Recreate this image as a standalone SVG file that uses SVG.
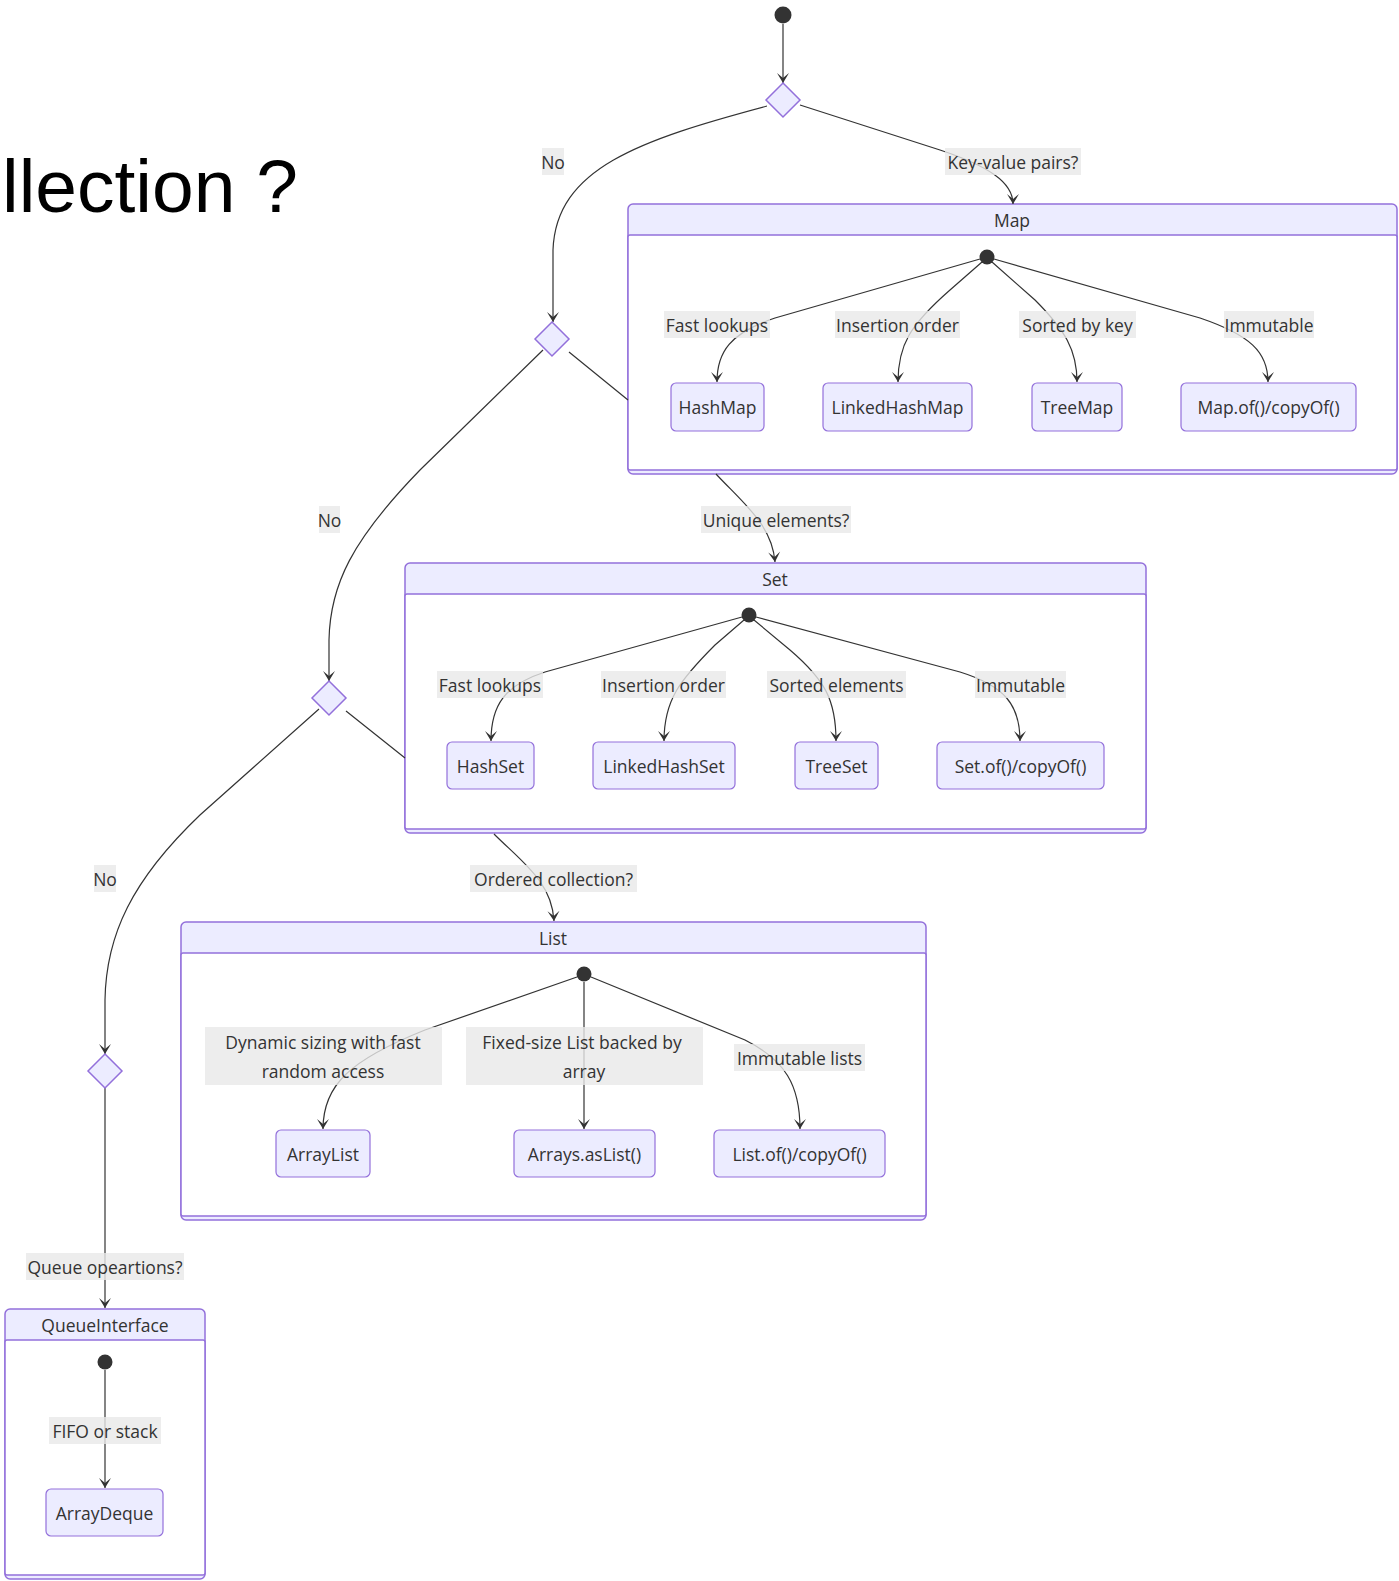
<svg xmlns="http://www.w3.org/2000/svg" width="1399" height="1581" viewBox="0 0 1399 1581">
<style>
.edge{fill:none;stroke:#333;stroke-width:1.2}
.lbg{fill:#e8e8e8;fill-opacity:0.8}
.t{font-family:"Open Sans","Noto Sans","DejaVu Sans",sans-serif;font-size:17.5px;fill:#333;text-anchor:middle;dominant-baseline:central}
.node rect{fill:#ECECFF;stroke:#9370DB;stroke-width:1.2}
.diam{fill:#ECECFF;stroke:#9370DB;stroke-width:1.5}
.outer{fill:#ECECFF;stroke:#9370DB;stroke-width:1.5}
.inner{fill:#ffffff;stroke:#9370DB;stroke-width:1.5}
.start{fill:#333}
</style>
<defs>
<marker id="arr" viewBox="0 0 20 14" markerWidth="20" markerHeight="14" refX="19" refY="7" orient="auto" markerUnits="userSpaceOnUse">
<path d="M19,7 L9,13 L14,7 L9,1 Z" fill="#333"/>
</marker>
</defs>
<rect width="1399" height="1581" fill="#ffffff"/>
<text x="2" y="212" font-family="'Liberation Sans',Arial,sans-serif" font-size="75" fill="#000">llection ?</text>

<g id="cluster-Map">
<rect class="outer" x="628" y="204" width="769" height="270" rx="5"/>
<rect class="inner" x="628" y="235" width="769" height="235" rx="2"/>
<text class="t" x="1012" y="220">Map</text>
</g>
<g id="cluster-Set">
<rect class="outer" x="405" y="563" width="741" height="270" rx="5"/>
<rect class="inner" x="405" y="594" width="741" height="235" rx="2"/>
<text class="t" x="775" y="579">Set</text>
</g>
<g id="cluster-List">
<rect class="outer" x="181" y="922" width="745" height="298" rx="5"/>
<rect class="inner" x="181" y="953" width="745" height="263" rx="2"/>
<text class="t" x="553" y="938">List</text>
</g>
<g id="cluster-QueueInterface">
<rect class="outer" x="5" y="1309" width="200" height="270" rx="5"/>
<rect class="inner" x="5" y="1340" width="200" height="235" rx="2"/>
<text class="t" x="105" y="1325">QueueInterface</text>
</g>

<g id="connectors">
<path class="edge" d="M783,24 L783,83" marker-end="url(#arr)"/>
<path class="edge" d="M800,105 L940,150 C988,166 1013,182 1013,204" marker-end="url(#arr)"/>
<path class="edge" d="M767,106 C640,140 556,168 553,250 L553,322" marker-end="url(#arr)"/>
<path class="edge" d="M569,352 L628,400 M716,474 C745,505 772,525 775,562" marker-end="url(#arr)"/>
<path class="edge" d="M543,350 L420,470 C352,540 330,585 329,640 L329,681" marker-end="url(#arr)"/>
<path class="edge" d="M346,711 L405,758 M494,834 C522,862 552,882 554,921" marker-end="url(#arr)"/>
<path class="edge" d="M319,709 L200,815 C132,880 106,935 105,1000 L105,1054" marker-end="url(#arr)"/>
<path class="edge" d="M105,1088 L105,1308" marker-end="url(#arr)"/>

<path class="edge" d="M980,259 L775,318 C730,333 717,352 717,382" marker-end="url(#arr)"/>
<path class="edge" d="M982,262 L950,290 C910,325 898,345 898,382" marker-end="url(#arr)"/>
<path class="edge" d="M992,262 L1035,300 C1065,330 1077,350 1077,382" marker-end="url(#arr)"/>
<path class="edge" d="M994,259 L1200,318 C1250,335 1268,352 1268,382" marker-end="url(#arr)"/>

<path class="edge" d="M742,617 L545,672 C505,685 491,705 491,741" marker-end="url(#arr)"/>
<path class="edge" d="M744,620 L715,645 C680,680 664,700 664,741" marker-end="url(#arr)"/>
<path class="edge" d="M754,620 L790,650 C825,680 836,700 836,741" marker-end="url(#arr)"/>
<path class="edge" d="M756,617 L960,672 C1005,686 1020,705 1020,741" marker-end="url(#arr)"/>

<path class="edge" d="M577,977 L425,1030 C350,1060 323,1085 323,1129" marker-end="url(#arr)"/>
<path class="edge" d="M584,982 L584,1129" marker-end="url(#arr)"/>
<path class="edge" d="M591,977 L745,1040 C785,1060 800,1085 800,1129" marker-end="url(#arr)"/>

<path class="edge" d="M105,1370 L105,1488" marker-end="url(#arr)"/>
</g>

<g id="edge-labels">
<rect class="lbg" x="542" y="148" width="22" height="27"/><text class="t" x="553" y="161.5">No</text>
<rect class="lbg" x="945" y="148" width="136" height="27"/><text class="t" x="1013" y="161.5">Key-value pairs?</text>
<rect class="lbg" x="319" y="506" width="21" height="27"/><text class="t" x="329.5" y="519.5">No</text>
<rect class="lbg" x="701" y="506" width="150" height="27"/><text class="t" x="776" y="519.5">Unique elements?</text>
<rect class="lbg" x="94" y="865" width="22" height="27"/><text class="t" x="105" y="878.5">No</text>
<rect class="lbg" x="470" y="865" width="167" height="27"/><text class="t" x="553.5" y="878.5">Ordered collection?</text>
<rect class="lbg" x="26" y="1253" width="158" height="27"/><text class="t" x="105" y="1266.5">Queue opeartions?</text>

<rect class="lbg" x="664" y="311" width="106" height="27"/><text class="t" x="717" y="324.5">Fast lookups</text>
<rect class="lbg" x="835" y="311" width="125" height="27"/><text class="t" x="897.5" y="324.5">Insertion order</text>
<rect class="lbg" x="1019" y="311" width="117" height="27"/><text class="t" x="1077.5" y="324.5">Sorted by key</text>
<rect class="lbg" x="1224" y="311" width="90" height="27"/><text class="t" x="1269" y="324.5">Immutable</text>

<rect class="lbg" x="437" y="671" width="106" height="27"/><text class="t" x="490" y="684.5">Fast lookups</text>
<rect class="lbg" x="601" y="671" width="125" height="27"/><text class="t" x="663.5" y="684.5">Insertion order</text>
<rect class="lbg" x="767" y="671" width="139" height="27"/><text class="t" x="836.5" y="684.5">Sorted elements</text>
<rect class="lbg" x="975" y="671" width="91" height="27"/><text class="t" x="1020.5" y="684.5">Immutable</text>

<rect class="lbg" x="205" y="1027" width="237" height="58"/><text class="t" x="323" y="1042">Dynamic sizing with fast</text><text class="t" x="323" y="1071">random access</text>
<rect class="lbg" x="466" y="1027" width="237" height="58"/><text class="t" x="582" y="1042">Fixed-size List backed by</text><text class="t" x="584" y="1071">array</text>
<rect class="lbg" x="734" y="1044" width="131" height="27"/><text class="t" x="799.5" y="1057.5">Immutable lists</text>

<rect class="lbg" x="49" y="1417" width="112" height="27"/><text class="t" x="105" y="1430.5">FIFO or stack</text>
</g>

<g id="start"><circle class="start" cx="783" cy="15" r="8.5"/></g>
<g id="choice1"><path class="diam" d="M783,83 L800,100 L783,117 L766,100 Z"/></g>
<g id="choice2"><path class="diam" d="M552,322 L569,339 L552,356 L535,339 Z"/></g>
<g id="choice3"><path class="diam" d="M329,681 L346,698 L329,715 L312,698 Z"/></g>
<g id="choice4"><path class="diam" d="M105,1054 L122,1071 L105,1088 L88,1071 Z"/></g>

<g id="map-start"><circle class="start" cx="987" cy="257" r="7.5"/></g>
<g id="HashMap" class="node"><rect x="671" y="383" width="93" height="48" rx="5"/><text class="t" x="717.5" y="407">HashMap</text></g>
<g id="LinkedHashMap" class="node"><rect x="823" y="383" width="149" height="48" rx="5"/><text class="t" x="897.5" y="407">LinkedHashMap</text></g>
<g id="TreeMap" class="node"><rect x="1032" y="383" width="90" height="48" rx="5"/><text class="t" x="1077" y="407">TreeMap</text></g>
<g id="MapOf" class="node"><rect x="1181" y="383" width="175" height="48" rx="5"/><text class="t" x="1268.5" y="407">Map.of()/copyOf()</text></g>

<g id="set-start"><circle class="start" cx="749" cy="615" r="7.5"/></g>
<g id="HashSet" class="node"><rect x="447" y="742" width="87" height="47" rx="5"/><text class="t" x="490.5" y="765.5">HashSet</text></g>
<g id="LinkedHashSet" class="node"><rect x="593" y="742" width="142" height="47" rx="5"/><text class="t" x="664" y="765.5">LinkedHashSet</text></g>
<g id="TreeSet" class="node"><rect x="795" y="742" width="83" height="47" rx="5"/><text class="t" x="836.5" y="765.5">TreeSet</text></g>
<g id="SetOf" class="node"><rect x="937" y="742" width="167" height="47" rx="5"/><text class="t" x="1020.5" y="765.5">Set.of()/copyOf()</text></g>

<g id="list-start"><circle class="start" cx="584" cy="974" r="7.5"/></g>
<g id="ArrayList" class="node"><rect x="276" y="1130" width="94" height="47" rx="5"/><text class="t" x="323" y="1153.5">ArrayList</text></g>
<g id="ArraysAsList" class="node"><rect x="514" y="1130" width="141" height="47" rx="5"/><text class="t" x="584.5" y="1153.5">Arrays.asList()</text></g>
<g id="ListOf" class="node"><rect x="714" y="1130" width="171" height="47" rx="5"/><text class="t" x="799.5" y="1153.5">List.of()/copyOf()</text></g>

<g id="queue-start"><circle class="start" cx="105" cy="1362" r="7.5"/></g>
<g id="ArrayDeque" class="node"><rect x="46" y="1489" width="117" height="47" rx="5"/><text class="t" x="104.5" y="1512.5">ArrayDeque</text></g>
</svg>
